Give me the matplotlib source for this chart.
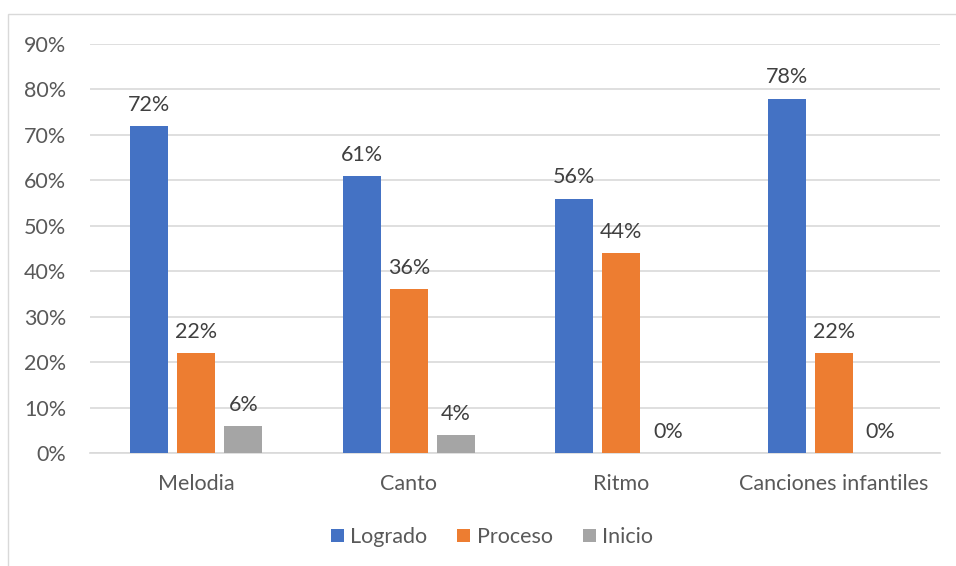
import matplotlib
matplotlib.use("Agg")
import matplotlib.pyplot as plt
from matplotlib.patches import Rectangle
import numpy as np

categories = ["Melodia", "Canto", "Ritmo", "Canciones infantiles"]
series_names = ["Logrado", "Proceso", "Inicio"]
logrado = [0.72, 0.61, 0.56, 0.78]
proceso = [0.22, 0.36, 0.44, 0.22]
inicio = [0.06, 0.04, 0.00, 0.00]
colors = ["#4472C4", "#ED7D31", "#A5A5A5"]
yticks = [0, 0.1, 0.2, 0.3, 0.4, 0.5, 0.6, 0.7, 0.8, 0.9]

plt.rcParams['font.family'] = ['Lato', 'DejaVu Sans']
FS = 15.5

fig = plt.figure(figsize=(9.56, 5.66), dpi=100)
fig.patches.append(Rectangle((8/956, -0.1), 1.2, (566-14)/566 + 0.1, transform=fig.transFigure,
                             fill=False, edgecolor="#d9d9d9", linewidth=1.0))
ax = fig.add_axes([90/956, (566-453)/566, (940-90)/956, (453-44)/566])

x = np.arange(len(categories)) + 0.5
w = 38/212.5
step = 47/212.5
for i, (vals, name, c) in enumerate(zip([logrado, proceso, inicio], series_names, colors)):
    pos = x + (i - 1) * step
    ax.bar(pos, vals, width=w, color=c, label=name, zorder=3)
    for p, v in zip(pos, vals):
        ax.annotate(f"{round(v*100):d}%", (p, v), xytext=(0, 8), textcoords="offset points",
                    ha="center", va="bottom", fontsize=FS, color="#404040")

ax.set_xlim(0, 4)
ax.set_ylim(0, 0.9)
ax.set_yticks(yticks)
ax.set_yticklabels([f"{round(t*100):d}%" for t in yticks])
ax.set_xticks(x)
ax.set_xticklabels(categories)
ax.tick_params(axis='both', length=0, labelsize=FS, colors="#595959")
ax.tick_params(axis='y', pad=17)
ax.tick_params(axis='x', pad=15)
ax.grid(axis='y', color="#d9d9d9", linewidth=1.2, zorder=0)
for s in ["top", "right", "left"]:
    ax.spines[s].set_visible(False)
ax.spines["bottom"].set_color("#d9d9d9")
ax.spines["bottom"].set_linewidth(1.2)

leg = fig.legend(loc="center", bbox_to_anchor=(492/956, 1 - 537/566), ncol=3, frameon=False,
                 fontsize=FS, handlelength=0.6, handleheight=0.6, handletextpad=0.3,
                 columnspacing=1.4)
for t in leg.get_texts():
    t.set_color("#595959")

fig.savefig("out.png", dpi=100)
